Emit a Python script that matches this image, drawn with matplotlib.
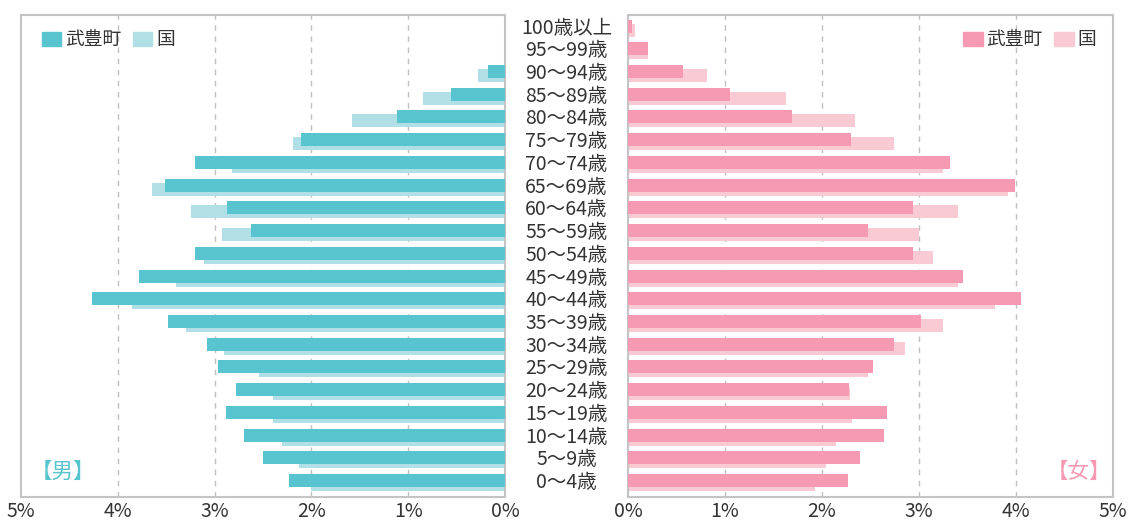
import matplotlib
matplotlib.use("Agg")
import matplotlib.pyplot as plt
from matplotlib.patches import Patch
from matplotlib.transforms import blended_transform_factory

plt.rcParams['font.family'] = ['Noto Sans CJK JP', 'DejaVu Sans']

# ---- data (% of total population), bottom -> top ----
ages = ["0～4歳", "5～9歳", "10～14歳", "15～19歳", "20～24歳", "25～29歳",
        "30～34歳", "35～39歳", "40～44歳", "45～49歳", "50～54歳", "55～59歳",
        "60～64歳", "65～69歳", "70～74歳", "75～79歳", "80～84歳", "85～89歳",
        "90～94歳", "95～99歳", "100歳以上"]

male_town = [2.23, 2.50, 2.70, 2.88, 2.78, 2.97, 3.08, 3.48, 4.27, 3.78, 3.20,
             2.62, 2.87, 3.51, 3.20, 2.11, 1.12, 0.56, 0.18, 0.0, 0.0]
male_nation = [2.00, 2.13, 2.30, 2.40, 2.40, 2.54, 2.90, 3.30, 3.85, 3.40, 3.11,
               2.92, 3.24, 3.65, 2.82, 2.19, 1.58, 0.85, 0.28, 0.0, 0.0]
female_town = [2.27, 2.39, 2.64, 2.67, 2.28, 2.53, 2.74, 3.02, 4.06, 3.46, 2.94,
               2.48, 2.94, 3.99, 3.32, 2.30, 1.69, 1.05, 0.57, 0.21, 0.04]
female_nation = [1.93, 2.04, 2.15, 2.31, 2.29, 2.48, 2.86, 3.25, 3.79, 3.41, 3.15,
                 3.00, 3.41, 3.92, 3.25, 2.74, 2.34, 1.63, 0.82, 0.21, 0.07]

ticks = [0, 1, 2, 3, 4, 5]
tick_labels = ["0%", "1%", "2%", "3%", "4%", "5%"]

# ---- style ----
M_TOWN = "#58C4CF"; M_NAT = "#B0E0E5"
F_TOWN = "#F59AB2"; F_NAT = "#F9C9D4"
TXT = "#333333"
FRAME = "#C4C4C4"
GRID = "#C0C0C0"

W, H = 1128, 525
fig = plt.figure(figsize=(W / 100, H / 100), dpi=100)
fig.patch.set_facecolor("white")

bottom = 27.7 / H
height = 482.6 / H
axL = fig.add_axes([21 / W, bottom, 484 / W, height])
axR = fig.add_axes([628 / W, bottom, 484.5 / W, height])

y = list(range(len(ages)))
bh = 0.572
off = 0.088


def style_axis(ax, reverse):
    ax.set_ylim(-0.65, 20.59)
    if reverse:
        ax.set_xlim(5, 0)
    else:
        ax.set_xlim(0, 5)
    ax.set_yticks([])
    ax.set_xticks(ticks)
    ax.set_xticklabels(tick_labels)
    ax.tick_params(axis="x", length=0, pad=3, labelsize=14, labelcolor=TXT)
    for s in ax.spines.values():
        s.set_color(FRAME)
        s.set_linewidth(1.5)
    for t in ticks[1:-1]:
        ax.axvline(t, color=GRID, lw=1.0, ls=(0, (4, 4)), zorder=0)


# male
axL.barh([v - off for v in y], male_nation, height=bh, color=M_NAT, zorder=2)
axL.barh([v + off for v in y], male_town, height=bh, color=M_TOWN, zorder=3)
style_axis(axL, reverse=True)

# female
axR.barh([v - off for v in y], female_nation, height=bh, color=F_NAT, zorder=2)
axR.barh([v + off for v in y], female_town, height=bh, color=F_TOWN, zorder=3)
style_axis(axR, reverse=False)

# age labels between panels
tr = blended_transform_factory(fig.transFigure, axL.transData)
for yi, lab in zip(y, ages):
    fig.text(566.5 / W, yi, lab, transform=tr, ha="center", va="center",
             fontsize=14, color=TXT)

# legends
def add_legend(ax, town_c, nat_c, loc, anchor):
    handles = [Patch(color=town_c, label="武豊町"), Patch(color=nat_c, label="国")]
    ax.legend(handles=handles, loc=loc, bbox_to_anchor=anchor, ncol=2,
              frameon=False, fontsize=13.5, handlelength=1.05, handleheight=0.75,
              handletextpad=0.2, columnspacing=0.6, borderpad=0,
              borderaxespad=0, labelcolor=TXT)

add_legend(axL, M_TOWN, M_NAT, "center left", (0.043, 0.948))
add_legend(axR, F_TOWN, F_NAT, "center right", (0.966, 0.948))

# sex labels
axL.text(0.0198, 0.052, "【男】", transform=axL.transAxes, ha="left",
         va="center", fontsize=15.5, color=M_TOWN)
axR.text(0.9965, 0.052, "【女】", transform=axR.transAxes, ha="right",
         va="center", fontsize=15.5, color=F_TOWN)

fig.savefig("out.png", dpi=100, facecolor="white")
